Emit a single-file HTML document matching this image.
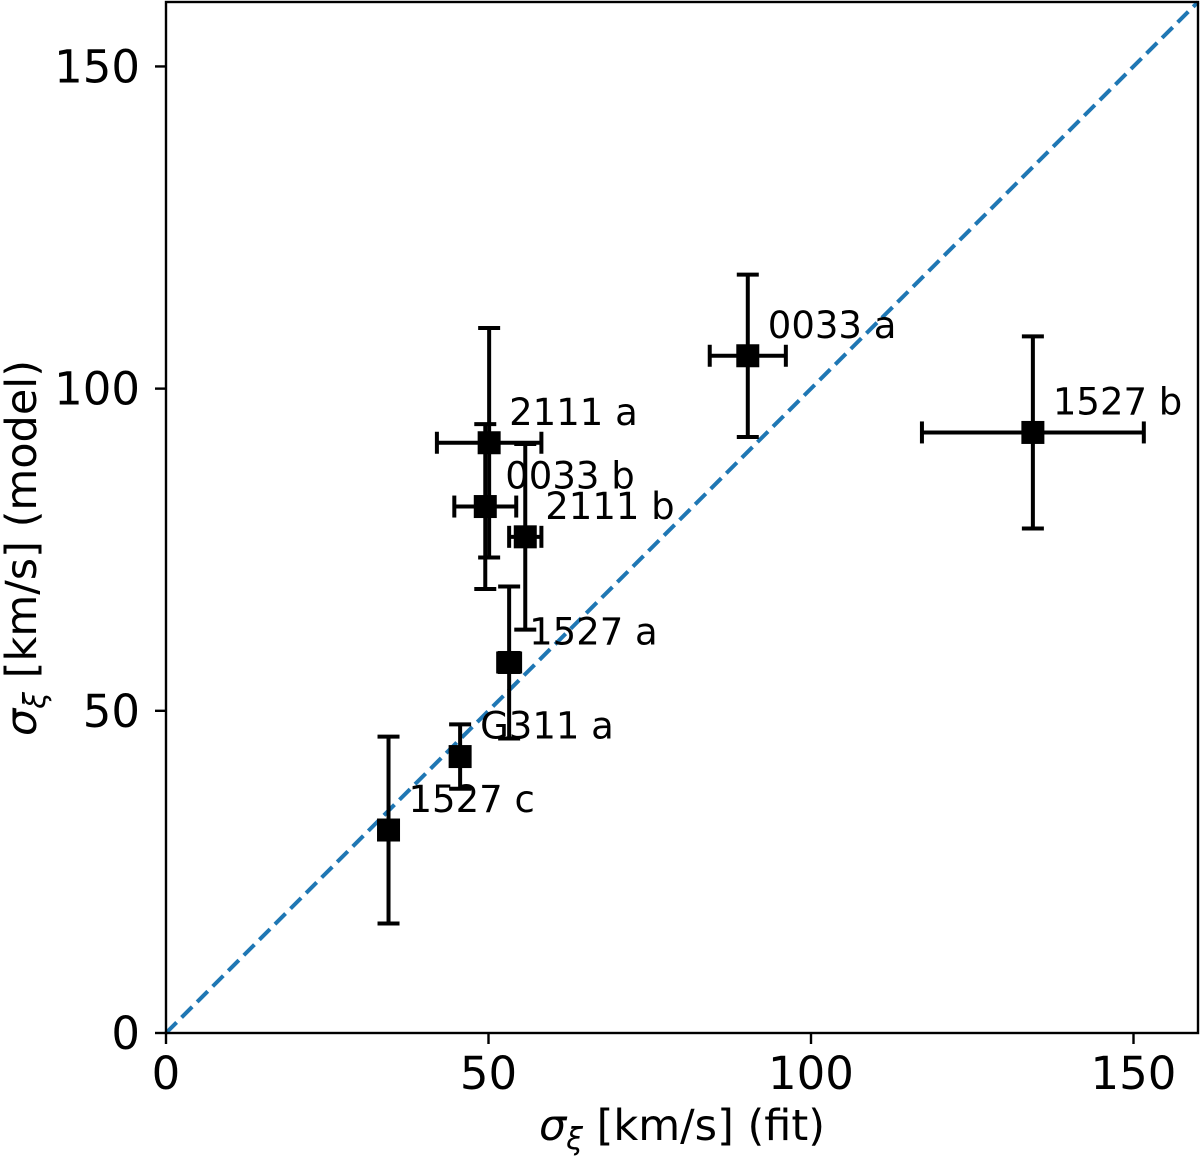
<!DOCTYPE html>
<html><head><meta charset="utf-8"><style>
html,body{margin:0;padding:0;background:#fff;}
svg{display:block;font-family:"DejaVu Sans","Liberation Sans",sans-serif;}
</style></head><body>
<svg id="chart" width="1200" height="1156" viewBox="0 0 1200 1156">
<g id="marks"></g>
<g id="axes"></g>
</svg>
<script>
const labels=["1527 c","G311 a","1527 a","0033 b","2111 a","2111 b","0033 a","1527 b"];
const xFit=[34.5,45.6,53.2,49.5,50.1,55.7,90.2,134.4];
const xErr=[1.0,1.0,1.7,4.8,8.1,2.5,5.9,17.2];
const yModel=[31.5,42.9,57.5,81.7,91.6,77.0,105.1,93.2];
const yErr=[14.5,5.0,11.8,12.8,17.8,14.4,12.6,14.9];
const xTicks=[0,50,100,150];
const yTicks=[0,50,100,150];
const L=166,R=1198,T=2,B=1033,MAX=160;
const sx=v=>L+(v/MAX)*(R-L);
const sy=v=>B-(v/MAX)*(B-T);
const NS="http://www.w3.org/2000/svg";
function mk(tag,attrs,parent){const e=document.createElementNS(NS,tag);for(const k in attrs)e.setAttribute(k,attrs[k]);parent.appendChild(e);return e;}
const marks=document.getElementById('marks');
const axes=document.getElementById('axes');
let d=mk('line',{x1:sx(0),y1:sy(0),x2:sx(MAX),y2:sy(MAX),stroke:'#1f77b4','stroke-width':4,'stroke-dasharray':'15,7'},marks);


for(let i=0;i<labels.length;i++){
  const g=mk('g',{},marks);
  
  
  const cx=sx(xFit[i]),cy=sy(yModel[i]);
  const y1=sy(yModel[i]+yErr[i]),y2=sy(yModel[i]-yErr[i]);
  const x1=sx(xFit[i]-xErr[i]),x2=sx(xFit[i]+xErr[i]);
  const st={stroke:'#000','stroke-width':4};
  mk('line',Object.assign({x1:cx,y1:y1,x2:cx,y2:y2},st),g);
  mk('line',Object.assign({x1:cx-11,y1:y1,x2:cx+11,y2:y1},st),g);
  mk('line',Object.assign({x1:cx-11,y1:y2,x2:cx+11,y2:y2},st),g);
  mk('line',Object.assign({x1:x1,y1:cy,x2:x2,y2:cy},st),g);
  mk('line',Object.assign({x1:x1,y1:cy-11,x2:x1,y2:cy+11},st),g);
  mk('line',Object.assign({x1:x2,y1:cy-11,x2:x2,y2:cy+11},st),g);
  mk('rect',{x:cx-11.5,y:cy-11.5,width:23,height:23,fill:'#000'},g);
  const t=mk('text',{x:cx+20,y:cy-18,'font-size':37,fill:'#000'},g);
  t.textContent=labels[i];
  
  
}
let fr=mk('rect',{x:L,y:T,width:R-L,height:B-T,fill:'none',stroke:'#000','stroke-width':2.4},axes);


for(const v of xTicks){
  mk('line',{x1:sx(v),y1:B,x2:sx(v),y2:B+11,stroke:'#000','stroke-width':2.4},axes);
  const t=mk('text',{x:sx(v),y:B+56,'font-size':45,'text-anchor':'middle'},axes);
  t.textContent=v;
  
  
}
for(const v of yTicks){
  mk('line',{x1:L-11,y1:sy(v),x2:L,y2:sy(v),stroke:'#000','stroke-width':2.4},axes);
  const t=mk('text',{x:L-26,y:sy(v)+16,'font-size':45,'text-anchor':'end'},axes);
  t.textContent=v;
  
  
}
</script>
<svg width="1200" height="1156" style="position:absolute;left:0;top:0;pointer-events:none;font-family:'DejaVu Sans','Liberation Sans',sans-serif">
<text x="682" y="1140" font-size="43" text-anchor="middle"><tspan font-style="italic">σ</tspan><tspan font-style="italic" font-size="30" dy="9">ξ</tspan><tspan dy="-9"> [km/s] (fit)</tspan></text>
<text transform="translate(36,548) rotate(-90)" font-size="43" text-anchor="middle"><tspan font-style="italic">σ</tspan><tspan font-style="italic" font-size="30" dy="9">ξ</tspan><tspan dy="-9"> [km/s] (model)</tspan></text>
</svg>
</body></html>
